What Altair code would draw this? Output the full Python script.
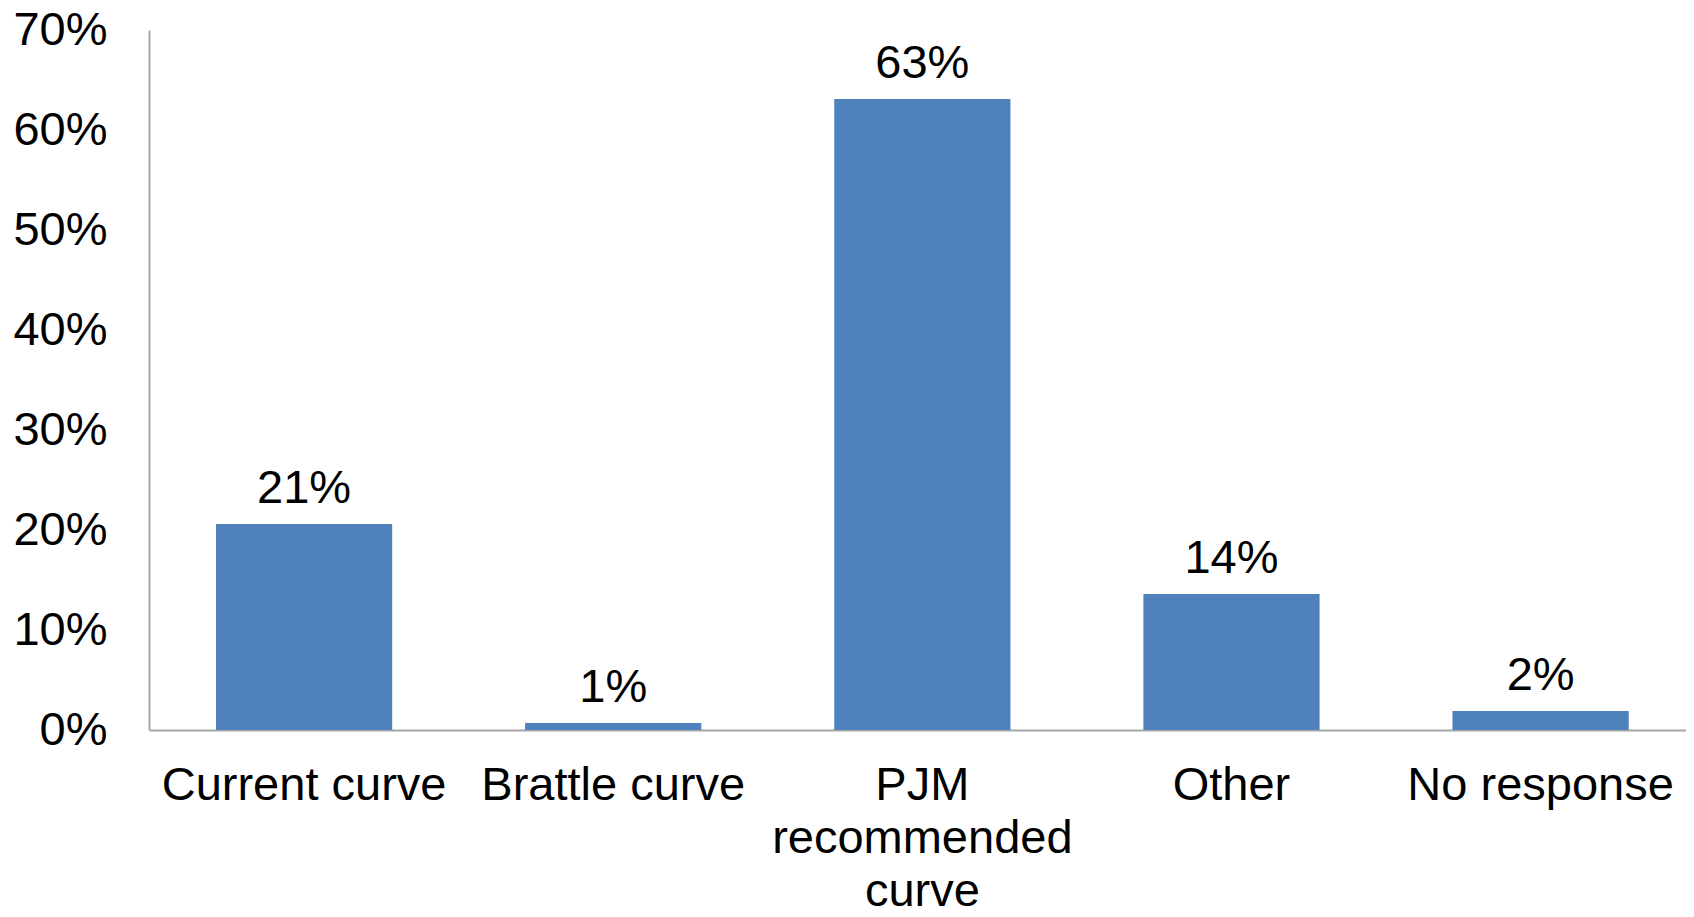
import altair as alt
import pandas as pd

categories = ["Current curve", "Brattle curve", "PJM recommended curve", "Other", "No response"]
values = [0.206, 0.007, 0.631, 0.136, 0.019]
value_labels = ["21%", "1%", "63%", "14%", "2%"]
y_ticks = [0, 0.1, 0.2, 0.3, 0.4, 0.5, 0.6, 0.7]

df = pd.DataFrame({"cat": categories, "v": values, "lab": value_labels})

label_expr = "datum.value == 'PJM recommended curve' ? ['PJM', 'recommended', 'curve'] : datum.value"

FONT = "Liberation Sans"

xscale = alt.Scale(paddingInner=0.43, paddingOuter=0.201, align=0.539)

x = alt.X("cat:N", sort=categories, title=None, scale=xscale,
          axis=alt.Axis(labelAngle=0, labelFont=FONT, labelFontSize=47, labelColor="#000000",
                        labelPadding=32, labelLineHeight=53, labelExpr=label_expr,
                        ticks=False, tickSize=0, domainColor="#a6a6a6", domainWidth=2,
                        labelLimit=0))
y = alt.Y("v:Q", title=None,
          scale=alt.Scale(domain=[0, 0.7], nice=False),
          axis=alt.Axis(format=".0%", values=y_ticks,
                        labelFont=FONT, labelFontSize=47, labelColor="#000000",
                        labelPadding=42, ticks=False, tickSize=0, grid=False,
                        domainColor="#a6a6a6", domainWidth=2))

bars = alt.Chart(df).mark_bar(color="#4F81BD").encode(x=x, y=y)
text = alt.Chart(df).mark_text(font=FONT, fontSize=47, color="#000000",
                               baseline="alphabetic", dy=-21).encode(
    x=alt.X("cat:N", sort=categories, scale=xscale), y="v:Q", text="lab:N")

chart = (bars + text).properties(
    width=1537, height=700,
    autosize=alt.AutoSizeParams(type="none"),
    padding={"left": 141, "top": 22, "right": 0, "bottom": 179},
).configure_view(stroke=None)

chart.save("out.html", embed_options={"renderer": "svg", "actions": False})
